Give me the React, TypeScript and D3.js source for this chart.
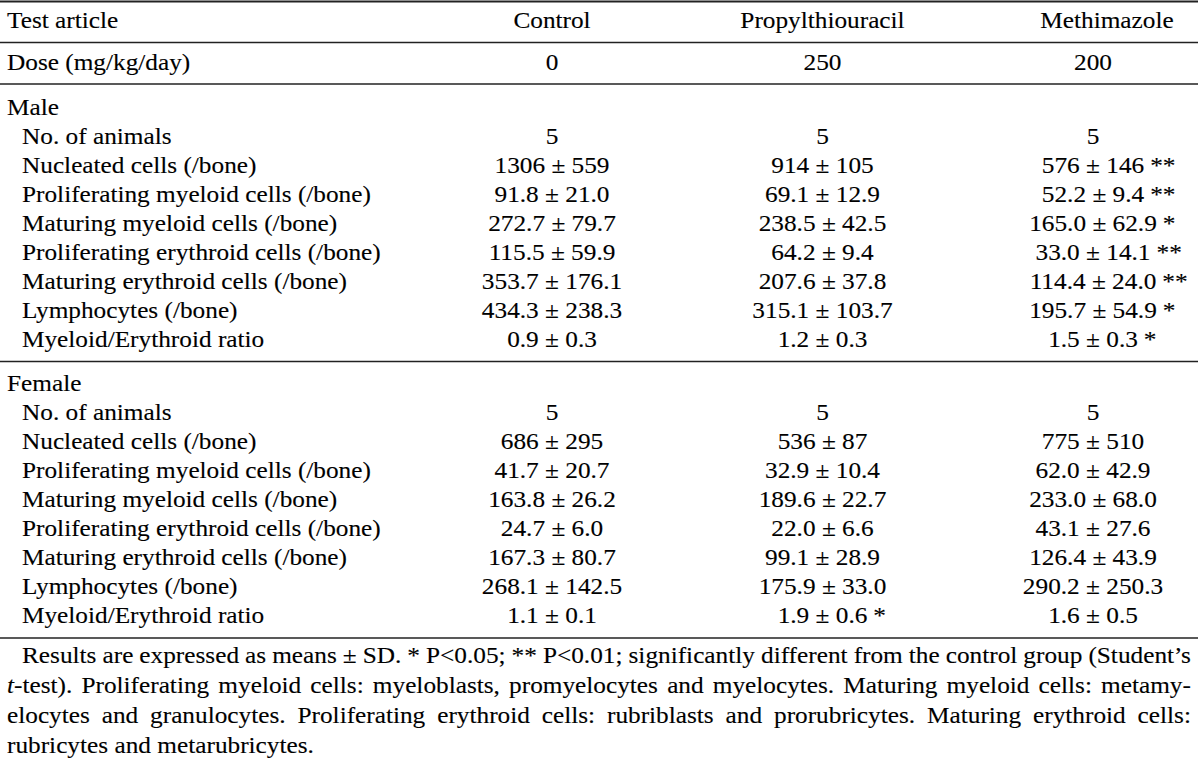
import React, { useEffect, useRef } from "react";
import * as d3 from "d3";

const headerLabel = "Test article";
const doseLabel = "Dose (mg/kg/day)";
const groups = ["Control", "Propylthiouracil", "Methimazole"];
const doses = ["0", "250", "200"];
const sections = ["Male", "Female"];
const rowLabels = [
  "No. of animals",
  "Nucleated cells (/bone)",
  "Proliferating myeloid cells (/bone)",
  "Maturing myeloid cells (/bone)",
  "Proliferating erythroid cells (/bone)",
  "Maturing erythroid cells (/bone)",
  "Lymphocytes (/bone)",
  "Myeloid/Erythroid ratio",
];

const maleControl = ["5", "1306 ± 559", "91.8 ± 21.0", "272.7 ± 79.7", "115.5 ± 59.9", "353.7 ± 176.1", "434.3 ± 238.3", "0.9 ± 0.3"];
const malePTU = ["5", "914 ± 105", "69.1 ± 12.9", "238.5 ± 42.5", "64.2 ± 9.4", "207.6 ± 37.8", "315.1 ± 103.7", "1.2 ± 0.3"];
const maleMMI = ["5", "576 ± 146", "52.2 ± 9.4", "165.0 ± 62.9", "33.0 ± 14.1", "114.4 ± 24.0", "195.7 ± 54.9", "1.5 ± 0.3"];
const maleSigMMI = ["", "**", "**", "*", "**", "**", "*", "*"];
const maleSigPTU = ["", "", "", "", "", "", "", ""];

const femaleControl = ["5", "686 ± 295", "41.7 ± 20.7", "163.8 ± 26.2", "24.7 ± 6.0", "167.3 ± 80.7", "268.1 ± 142.5", "1.1 ± 0.1"];
const femalePTU = ["5", "536 ± 87", "32.9 ± 10.4", "189.6 ± 22.7", "22.0 ± 6.6", "99.1 ± 28.9", "175.9 ± 33.0", "1.9 ± 0.6"];
const femaleMMI = ["5", "775 ± 510", "62.0 ± 42.9", "233.0 ± 68.0", "43.1 ± 27.6", "126.4 ± 43.9", "290.2 ± 250.3", "1.6 ± 0.5"];
const femaleSigPTU = ["", "", "", "", "", "", "", "*"];
const femaleSigMMI = ["", "", "", "", "", "", "", ""];
const noSig = ["", "", "", "", "", "", "", ""];

const footnoteLines = [
  "Results are expressed as means ± SD. * P<0.05; ** P<0.01; significantly different from the control group (Student’s",
  "t-test). Proliferating myeloid cells: myeloblasts, promyelocytes and myelocytes. Maturing myeloid cells: metamy-",
  "elocytes and granulocytes. Proliferating erythroid cells: rubriblasts and prorubricytes. Maturing erythroid cells:",
  "rubricytes and metarubricytes.",
];

const W = 1200;
const H = 768;
const FONT = "'Liberation Serif','Times New Roman',Times,serif";
const FS = 23;
const SX = 1.1;
const INK = "#000";

export default function App() {
  const ref = useRef<SVGSVGElement | null>(null);

  useEffect(() => {
    const svg = d3.select(ref.current);
    svg.selectAll("*").remove();
    const g = svg.append("g");

    const styleText = (t: any) =>
      t
        .attr("font-family", FONT)
        .attr("font-size", FS)
        .attr("fill", INK)
        .attr("stroke", INK)
        .attr("stroke-width", 0.12);

    const addText = (x: number, y: number, str: string, anchor = "start") => {
      const t = g
        .append("text")
        .attr("transform", `translate(${x},${y}) scale(${SX},1)`)
        .attr("text-anchor", anchor)
        .text(str);
      styleText(t);
      return t;
    };

    const col = d3.scalePoint<string>().domain(groups).range([552, 1093]);
    const headerDx = (gname: string) => (gname === "Methimazole" ? 14 : 0);

    // horizontal rules
    const rules = [1.5, 42.5, 84, 361.5, 638];
    g.selectAll("line.rule")
      .data(rules)
      .enter()
      .append("line")
      .attr("x1", 0)
      .attr("x2", 1198)
      .attr("y1", (d) => d)
      .attr("y2", (d) => d)
      .attr("stroke", "#222")
      .attr("stroke-width", (d, i) => (i === 0 ? 2 : 1.6));

    // header
    addText(7, 28, headerLabel);
    groups.forEach((gn) => addText((col(gn) as number) + headerDx(gn), 28, gn, "middle"));
    addText(7, 70, doseLabel);
    groups.forEach((gn, i) => addText(col(gn) as number, 70, doses[i], "middle"));

    const rowStep = 29;
    const sectionTops = [114.5, 391];
    const sectionData = [
      { vals: [maleControl, malePTU, maleMMI], sig: [noSig, maleSigPTU, maleSigMMI] },
      { vals: [femaleControl, femalePTU, femaleMMI], sig: [noSig, femaleSigPTU, femaleSigMMI] },
    ];

    sections.forEach((sec, si) => {
      const top = sectionTops[si];
      addText(7, top, sec);
      const y = d3
        .scaleLinear()
        .domain([0, rowLabels.length])
        .range([top + rowStep, top + rowStep * (rowLabels.length + 1)]);
      rowLabels.forEach((lab, ri) => {
        const yy = y(ri);
        addText(22, yy, lab);
        groups.forEach((gn, ci) => {
          const cx = col(gn) as number;
          const v = sectionData[si].vals[ci][ri];
          const t = addText(cx, yy, v, "middle");
          const s = sectionData[si].sig[ci][ri];
          if (s) {
            const w = (t.node() as SVGTextElement).getComputedTextLength() * SX;
            addText(cx + w / 2 + 6, yy, s, "start");
          }
        });
      });
    });

    // footnote (justified)
    const fnY = [663, 693, 723, 753];
    const fnLeft = [22, 7, 7, 7];
    const fnRight = 1191;
    footnoteLines.forEach((line, li) => {
      const words = line.split(" ");
      const nodes = words.map((w, wi) => {
        const t = g.append("text");
        styleText(t);
        if (li === 1 && wi === 0 && w.startsWith("t-")) {
          t.append("tspan").attr("font-style", "italic").text("t");
          t.append("tspan").text(w.slice(1));
        } else {
          t.text(w);
        }
        return t;
      });
      const widths = nodes.map((n) => (n.node() as SVGTextElement).getComputedTextLength() * SX);
      const total = d3.sum(widths);
      const justify = li < footnoteLines.length - 1;
      const gap = justify ? (fnRight - fnLeft[li] - total) / (words.length - 1) : FS * 0.25 * SX;
      let x = fnLeft[li];
      nodes.forEach((n, i) => {
        n.attr("transform", `translate(${x},${fnY[li]}) scale(${SX},1)`);
        x += widths[i] + gap;
      });
    });
  }, []);

  return (
    <svg
      ref={ref}
      width={W}
      height={H}
      viewBox={`0 0 ${W} ${H}`}
      style={{ position: "absolute", left: 0, top: 0, background: "#fff" }}
    />
  );
}
